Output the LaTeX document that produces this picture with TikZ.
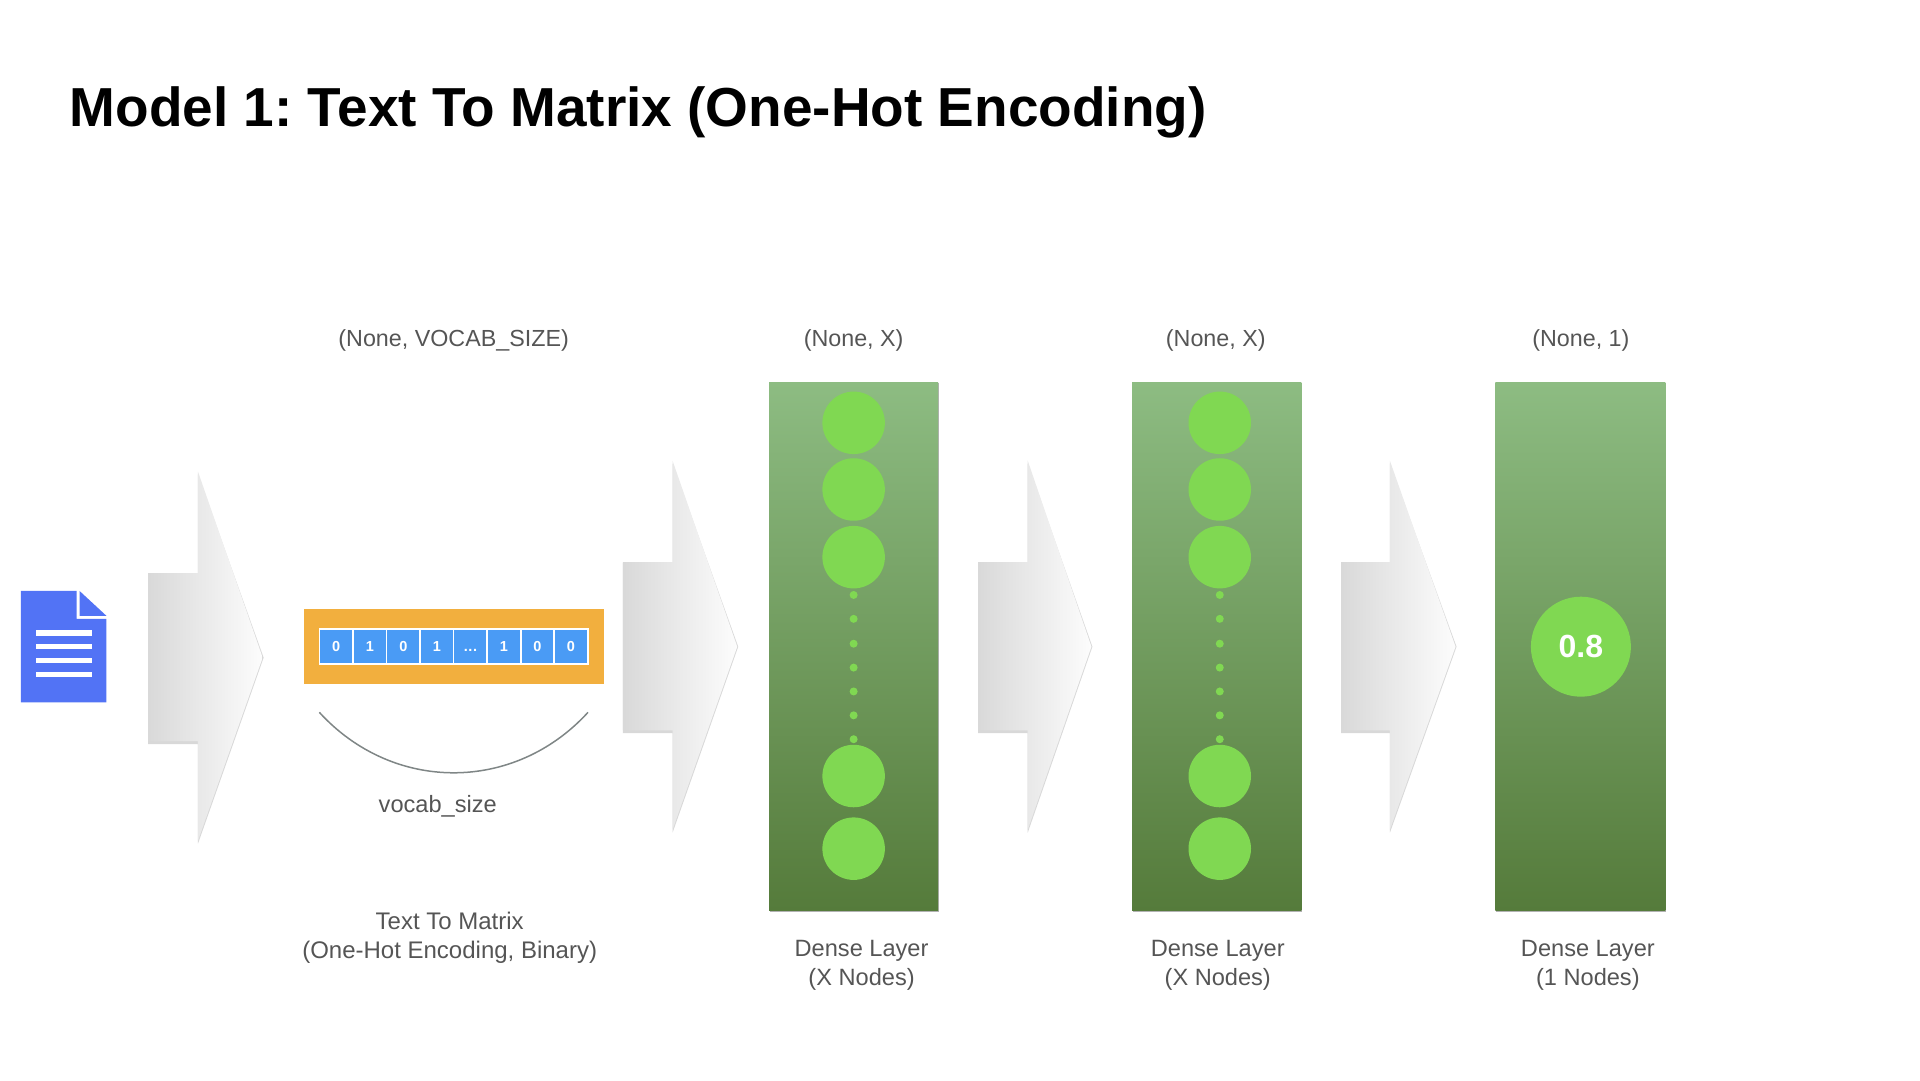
\documentclass[tikz,border=0pt]{standalone}
\usepackage{fontspec}
\setmainfont{Liberation Sans}
\frenchspacing
\definecolor{txt}{HTML}{555555}
\definecolor{node}{HTML}{80D852}
\definecolor{gtop}{HTML}{8DBC82}
\definecolor{gbot}{HTML}{557B3B}
\definecolor{docblue}{HTML}{5273F5}
\definecolor{cellblue}{HTML}{4A9BF5}
\definecolor{orangebar}{HTML}{F2AF3E}
\definecolor{curve}{HTML}{7F8686}
\def\celldots{.\kern0.6pt.\kern0.6pt.}
\tikzset{
  x=0.9949pt,y=-0.9949pt,
  lbl/.style={text=txt,font=\fontsize{23.3}{29.3}\selectfont,align=center,inner sep=0pt},
  lblb/.style={lbl,font=\fontsize{23.6}{29.3}\selectfont},
  lblc/.style={lbl,font=\fontsize{24}{29.5}\selectfont},
  cell/.style={draw=white,line width=1.6pt,fill=cellblue,minimum width=33.5pt,minimum height=35pt,inner sep=0pt,text=white,text height=10.4pt,text depth=0pt,font=\fontsize{14.5}{15}\selectfont\bfseries},
  bignode/.style={circle,fill=node,minimum size=62.5pt,inner sep=0pt},
  dotnode/.style={circle,fill=node,minimum size=8pt,inner sep=0pt},
  doclines/.style={fill=white},
}
\newcommand{\fatarrow}[6]{% x0 x1 x2 ytip colours
  \fill[black!30,opacity=.5] (#1,#4-85+1)--(#2,#4-85+1)--(#2,#4-186+2)--(#3+1,#4)--(#2,#4+184+3)--(#2,#4+84+3)--(#1,#4+84+3)--cycle;
  \shade[left color=#5,right color=#6] (#1,#4-85)--(#2,#4-85)--(#2,#4-187)--(#3,#4)--(#2,#4+184)--(#2,#4+84)--(#1,#4+84)--cycle;
}
\newcommand{\denserect}[2]{%
  \fill[black!30] (#1+1,385)rectangle(#2+1,917);
  \shade[top color=gtop,bottom color=gbot] (#1,384)rectangle(#2,915);
}
\begin{document}
\begin{tikzpicture}
\useasboundingbox (0,0) rectangle (1929.84,1085.54);
\node[anchor=base west,inner sep=0pt,font=\fontsize{54.95}{60}\selectfont\bfseries] (title) at (70,127) {Model 1: Text To Matrix (One-Hot Encoding)};
% document icon
\fill[docblue] (21,594)--(77,594)--(77,622)--(107,622)--(107,706)--(21,706)--cycle;
\fill[docblue] (80,594)--(107,619)--(80,619)--cycle;
\foreach \y in {636,650,664,678} \fill[doclines] (36,\y-2.8) rectangle (92,\y+2.8);
% arrows
\fatarrow{149}{199}{264}{661}{black!15}{black!1}
\fatarrow{626}{676}{741}{650}{black!15}{black!1}
\fatarrow{983}{1033}{1097}{650}{black!15}{black!1}
\fatarrow{1348}{1397}{1463}{650}{black!15}{black!1}
% one-hot strip
\fill[orangebar] (306,612) rectangle (607,687);
\foreach \t [count=\i from 0] in {0,1,0,1,\celldots,1,0,0}
  \node[cell] (c\i) at (338+33.7*\i,650) {\t};
\draw[curve,line width=1.5pt] (321,716) .. controls (395,797) and (517,797) .. (591,716);
% dense layers
\denserect{773}{943}
\denserect{1138}{1308}
\denserect{1503}{1674}
\foreach \x/\n in {858/a,1226/b}{
  \foreach \y/\m in {425/1,492/2,560/3,780/4,853/5}
    \node[bignode] (\n\m) at (\x,\y) {};
  \foreach \y/\m in {598/1,622/2,647/3,671/4,695/5,719/6,743/7}
    \node[dotnode] (\n d\m) at (\x,\y) {};
}
\node[circle,fill=node,minimum size=100pt,inner sep=0pt,text=white,font=\fontsize{32}{34}\selectfont\bfseries] (out) at (1589,650) {0.8};
% labels
\node[lbl] (s1) at (456,342) {(None, VOCAB\_SIZE)};
\node[lbl] (s2) at (858,342) {(None, X)};
\node[lbl] (s3) at (1222,342) {(None, X)};
\node[lbl] (s4) at (1589,342) {(None, 1)};
\node[lblb] (vs) at (440,810) {vocab\_size};
\node[lblc] (tm) at (452,942.5) {Text To Matrix\\(One-Hot Encoding, Binary)};
\node[lblb] (d1) at (866,970.5) {Dense Layer\\(X Nodes)};
\node[lblb] (d2) at (1224,970.5) {Dense Layer\\(X Nodes)};
\node[lblb] (d3) at (1596,970.5) {Dense Layer\\(1 Nodes)};
\end{tikzpicture}
\end{document}
